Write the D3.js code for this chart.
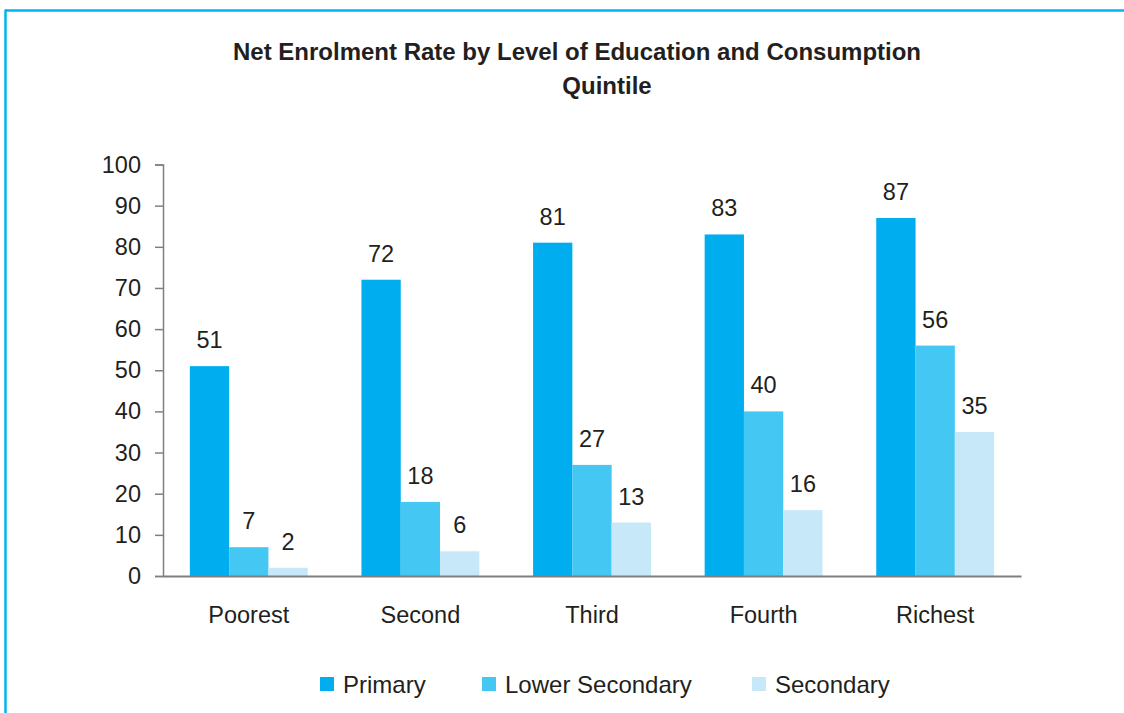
<!DOCTYPE html>
<html>
<head>
<meta charset="utf-8">
<script src="https://cdn.jsdelivr.net/npm/d3@7/dist/d3.min.js"></script>
<style>
  html, body { margin: 0; padding: 0; background: #fff; }
  svg { display: block; font-family: "Liberation Sans", Arial, sans-serif; }
</style>
</head>
<body>
<svg id="chart" width="1124" height="713"></svg>
<script>
// Net enrolment rate (%) by consumption quintile
const quintiles = ["Poorest", "Second", "Third", "Fourth", "Richest"];
const seriesNames = ["Primary", "Lower Secondary", "Secondary"];
const primary = [51, 72, 81, 83, 87];
const lowerSecondary = [7, 18, 27, 40, 56];
const secondary = [2, 6, 13, 16, 35];
const yTicks = [0, 10, 20, 30, 40, 50, 60, 70, 80, 90, 100];
const colors = ["#00aeef", "#45c7f4", "#c6e8f8"];

const seriesValues = [primary, lowerSecondary, secondary];
const rows = quintiles.map((q, i) => ({
  quintile: q,
  values: seriesNames.map((s, j) => ({ series: s, value: seriesValues[j][i] }))
}));

const svg = d3.select("#chart");
const ink = "#231f20";
const font = "Liberation Sans, Arial, sans-serif";

// frame lines (top and left)
svg.append("line").attr("x1", 5).attr("x2", 1124).attr("y1", 10.5).attr("y2", 10.5)
  .attr("stroke", "#00b4f0").attr("stroke-width", 2.5);
svg.append("line").attr("x1", 5.5).attr("x2", 5.5).attr("y1", 9.5).attr("y2", 713)
  .attr("stroke", "#00b4f0").attr("stroke-width", 2.5);

// title
const title = svg.append("text").attr("text-anchor", "middle")
  .attr("font-weight", "bold").attr("font-size", 24).attr("fill", ink);
title.append("tspan").attr("x", 577).attr("y", 60).text("Net Enrolment Rate by Level of Education and Consumption");
title.append("tspan").attr("x", 607).attr("y", 94).text("Quintile");

const plotLeft = 163, plotRight = 1021, plotTop = 164.5, plotBottom = 576;

const x0 = d3.scaleBand().domain(quintiles).range([plotLeft, plotRight]).paddingInner(0.313).paddingOuter(0.1565);
const x1 = d3.scaleBand().domain(seriesNames).range([0, x0.bandwidth()]);
const y = d3.scaleLinear().domain([0, 100]).range([plotBottom, plotTop]);

// bars
const groups = svg.append("g").selectAll("g").data(rows).join("g")
  .attr("transform", d => `translate(${x0(d.quintile)},0)`);

groups.selectAll("rect").data(d => d.values).join("rect")
  .attr("x", d => x1(d.series))
  .attr("width", x1.bandwidth())
  .attr("y", d => y(d.value))
  .attr("height", d => y(0) - y(d.value))
  .attr("fill", (d, i) => colors[i]);

// value labels
groups.selectAll("text.val").data(d => d.values).join("text")
  .attr("class", "val")
  .attr("x", d => x1(d.series) + x1.bandwidth() / 2)
  .attr("y", d => y(d.value) - 18)
  .attr("text-anchor", "middle")
  .attr("font-size", 23.5)
  .attr("fill", ink)
  .text(d => d.value);

// y axis
const yAxis = svg.append("g").attr("transform", `translate(${plotLeft},0)`)
  .call(d3.axisLeft(y).tickValues(yTicks).tickSize(8).tickPadding(14));
yAxis.select(".domain").attr("stroke", "#7f7f7f").attr("stroke-width", 1.5);
yAxis.selectAll(".tick line").attr("stroke", "#7f7f7f").attr("stroke-width", 1.5);
yAxis.selectAll(".tick text").attr("font-size", 23.5).attr("fill", ink)
  .attr("font-family", font);

// x axis
const xAxis = svg.append("g").attr("transform", `translate(0,${plotBottom})`)
  .call(d3.axisBottom(x0).tickSize(0).tickPadding(30));
xAxis.select(".domain").attr("stroke", "#7f7f7f").attr("stroke-width", 2);
xAxis.selectAll(".tick text").attr("font-size", 23.5).attr("fill", ink)
  .attr("font-family", font);

// legend
const legendX = [320, 482, 752];
const legend = svg.append("g").selectAll("g").data(seriesNames).join("g")
  .attr("transform", (d, i) => `translate(${legendX[i]},677)`);
legend.append("rect").attr("width", 14).attr("height", 14).attr("fill", (d, i) => colors[i]);
legend.append("text").attr("x", 23).attr("y", 15.5).attr("font-size", 24)
  .attr("fill", ink).text(d => d);
</script>
</body>
</html>
